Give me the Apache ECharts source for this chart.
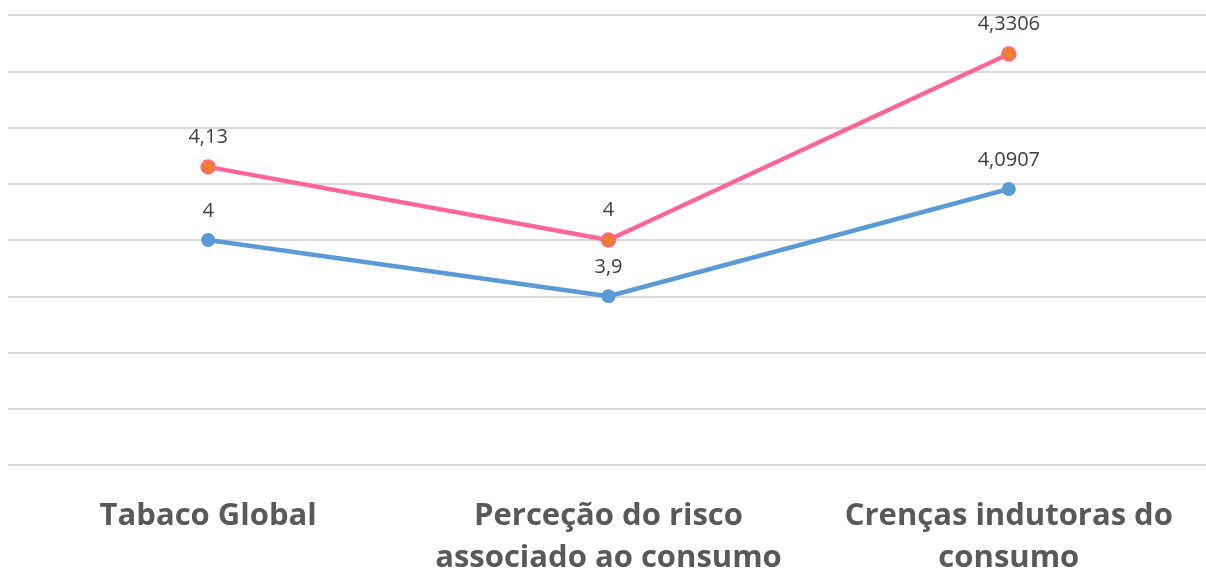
<!DOCTYPE html>
<html><head><meta charset="utf-8">
<script src="https://cdn.jsdelivr.net/npm/echarts@6/dist/echarts.min.js"></script>
<style>html,body{margin:0;padding:0;background:#fff}#c{width:1206px;height:573px}</style>
</head><body><div id="c"></div>
<script>
const categories = ['Tabaco Global', 'Perceção do risco\nassociado ao consumo', 'Crenças indutoras do\nconsumo'];
const seriesPink = [4.13, 4, 4.3306];
const seriesBlue = [4, 3.9, 4.0907];
const yMin = 3.6, yMax = 4.4, yStep = 0.1;

const chart = echarts.init(document.getElementById('c'));
const lbl = {
  show: true, position: 'top', distance: 12,
  color: '#404040', fontFamily: 'Open Sans', fontSize: 20,
  formatter: p => String(p.value).replace('.', ',')
};
chart.setOption({
  animation: false,
  grid: { left: 8, right: -3, top: 15, bottom: 108, containLabel: false, outerBoundsMode: 'none' },
  xAxis: {
    type: 'category', data: categories, boundaryGap: true,
    axisLine: { show: false }, axisTick: { show: false },
    axisLabel: { color: '#595959', fontFamily: 'Open Sans', fontWeight: 'bold', fontSize: 31, lineHeight: 42, margin: 30, interval: 0 }
  },
  yAxis: {
    type: 'value', min: yMin, max: yMax, interval: yStep,
    axisLabel: { show: false }, axisLine: { show: false }, axisTick: { show: false },
    splitLine: { lineStyle: { color: '#d9d9d9', width: 2 } }
  },
  series: [
    { type: 'line', data: seriesBlue, symbol: 'circle', symbolSize: 14,
      lineStyle: { color: '#5B9BD5', width: 4.5 }, itemStyle: { color: '#5B9BD5' }, label: lbl },
    { type: 'line', data: seriesPink, symbol: 'circle', symbolSize: 14,
      lineStyle: { color: '#FF6699', width: 4.5 }, itemStyle: { color: '#ED7D31', borderColor: '#FF6699', borderWidth: 1.5 }, label: lbl }
  ]
});
</script></body></html>
